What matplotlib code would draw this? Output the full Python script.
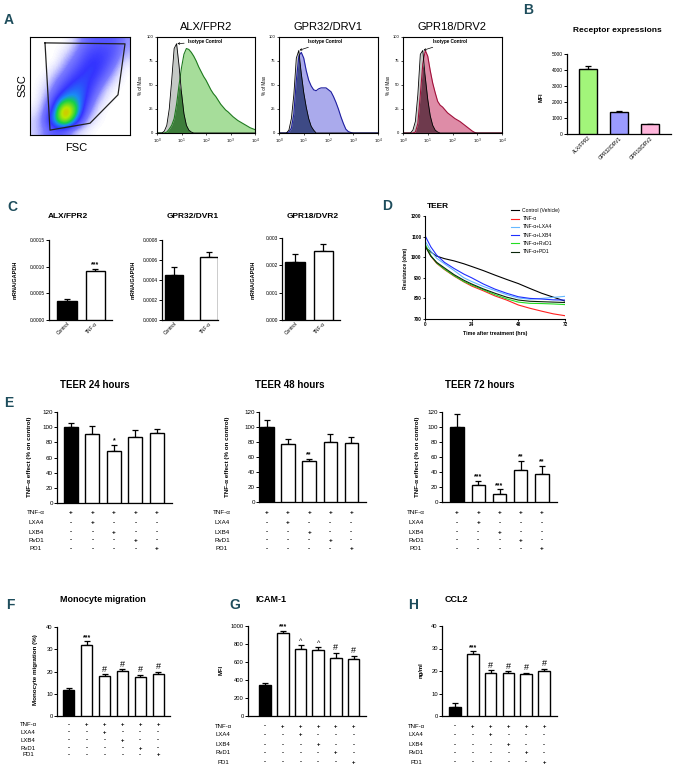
import numpy as np
import matplotlib
matplotlib.use("Agg")
import matplotlib.pyplot as plt
from matplotlib.colors import LinearSegmentedColormap
from matplotlib.transforms import blended_transform_factory

plt.rcParams['font.family'] = ['Liberation Sans', 'DejaVu Sans']

# ---------------- data ----------------
# flow cytometry histograms, x in log10 units (10^0 .. 10^4), y in % of max
hist_logx = np.round(np.arange(0, 4.01, 0.1), 1)
alx_iso = [0, 0, 0, 2, 8, 25, 55, 88, 93, 70, 42, 20, 8, 3, 1] + [0] * 26
alx_rec = [0, 0, 0, 0, 1, 4, 8, 15, 30, 50, 68, 82, 88, 87, 84, 80, 75, 69, 64, 59,
           55, 50, 45, 41, 38, 34, 30, 27, 24, 22, 19.5, 17, 15, 13, 11.5, 10, 8.5,
           7, 5.5, 4.5, 3.5]
gpr32_iso = [0, 0, 0, 0, 3, 15, 40, 78, 86, 62, 42, 27, 15, 7, 3, 0] + [0] * 25
gpr32_rec = [0, 0, 0, 0, 1, 5, 20, 55, 80, 84, 78, 65, 55, 49, 45, 44, 46, 47, 47, 47,
             45, 43, 38, 32, 25, 17, 10, 4, 1.5, 0.5] + [0] * 11
gpr18_iso = [0, 0, 0, 0, 3, 12, 40, 82, 86, 58, 35, 18, 8, 3, 1] + [0] * 26
gpr18_rec = [0, 0, 0, 0, 0, 1, 10, 40, 72, 86, 80, 65, 52, 42, 33, 29, 27, 24, 21, 19,
             17, 15, 13.5, 12, 10, 8, 6, 4, 2, 0.5] + [0] * 11

# FSC/SSC dot plot density (rows top -> bottom, cols left -> right)
scatter_density = [
    [0, 0, 0, 0, 0.05, 0.15, 0.2, 0.2, 0.2, 0.1],
    [0, 0, 0, 0.03, 0.1, 0.2, 0.25, 0.25, 0.2, 0.08],
    [0, 0, 0, 0.08, 0.15, 0.25, 0.3, 0.25, 0.15, 0.03],
    [0, 0, 0.05, 0.12, 0.22, 0.3, 0.3, 0.2, 0.08, 0],
    [0, 0.02, 0.1, 0.2, 0.3, 0.32, 0.25, 0.12, 0.03, 0],
    [0, 0.05, 0.15, 0.3, 0.38, 0.33, 0.18, 0.05, 0, 0],
    [0, 0.08, 0.25, 0.5, 0.48, 0.3, 0.1, 0.02, 0, 0],
    [0.02, 0.12, 0.35, 0.95, 0.6, 0.2, 0.05, 0, 0, 0],
    [0.05, 0.15, 0.45, 0.8, 0.4, 0.1, 0.02, 0, 0, 0],
    [0.05, 0.12, 0.2, 0.15, 0.05, 0.02, 0, 0, 0, 0],
]
gate_x = [0.15, 0.95, 0.88, 0.6, 0.2, 0.15]
gate_y = [0.94, 0.93, 0.41, 0.12, 0.05, 0.94]

# receptor MFI
receptors = ['ALX/FPR2', 'GPR32/DRV1', 'GPR18/DRV2']
receptor_mfi = [4080, 1380, 600]
receptor_err = [180, 80, 50]

# mRNA
mrna_groups = ['Control', 'TNF-α']
mrna_alx = [0.00035, 0.00091]
mrna_alx_err = [0.00005, 0.00005]
mrna_gpr32 = [0.00045, 0.00063]
mrna_gpr32_err = [0.00008, 0.00005]
mrna_gpr18 = [0.00213, 0.00252]
mrna_gpr18_err = [0.00028, 0.00027]

# TEER time course
teer_t = [0, 3, 6, 10, 15, 20, 24, 30, 36, 42, 48, 54, 60, 66, 72]
teer_ctrl = [1050, 1025, 1005, 993, 982, 968, 955, 935, 913, 892, 872, 848, 825, 806, 787]
teer_tnf = [1060, 1005, 970, 940, 908, 880, 860, 837, 812, 792, 768, 752, 738, 725, 716]
teer_lxa4 = [1080, 1030, 995, 968, 935, 900, 882, 858, 838, 818, 802, 796, 800, 805, 810]
teer_lxb4 = [1105, 1050, 1010, 975, 945, 918, 900, 870, 845, 825, 808, 800, 797, 793, 792]
teer_rvd1 = [1065, 1008, 972, 942, 910, 882, 865, 842, 818, 798, 782, 776, 775, 773, 770]
teer_pd1 = [1055, 1005, 975, 948, 915, 888, 870, 846, 825, 806, 792, 786, 784, 782, 780]
teer_names = ['Control (Vehicle)', 'TNF-α', 'TNF-α+LXA4', 'TNF-α+LXB4', 'TNF-α+RvD1', 'TNF-α+PD1']

# TEER effect bars
teer24 = [100, 91, 69, 87, 92]
teer24_err = [6, 10, 8, 9, 6]
teer24_marks = ['', '', '*', '', '']
teer48 = [100, 77, 55, 80, 79]
teer48_err = [9, 7, 3, 11, 8]
teer48_marks = ['', '', '**', '', '']
teer72 = [100, 23, 11, 43, 38]
teer72_err = [18, 5, 6, 12, 10]
teer72_marks = ['', '***', '***', '**', '**']

# monocyte migration, ICAM-1, CCL2
mono = [11.5, 32, 18.1, 20.2, 17.4, 18.9]
mono_err = [1.2, 1.6, 0.6, 0.8, 1.2, 1.0]
mono_marks = ['', '***', '#', '#', '#', '#']
icam = [342, 922, 740, 736, 643, 636]
icam_err = [26, 22, 48, 26, 60, 33]
icam_marks = ['', '***', '^', '^', '#', '#']
ccl2 = [4.0, 27.5, 19.2, 19.3, 18.7, 20.2]
ccl2_err = [1.8, 1.3, 1.2, 0.6, 0.6, 0.9]
ccl2_marks = ['', '***', '#', '#', '#', '#']

treat_labels = ['TNF-α', 'LXA4', 'LXB4', 'RvD1', 'PD1']
teer_signs = ['+++++', '-+---', '--+--', '---+-', '----+']
mono_signs = ['-+++++', '--+---', '---+--', '----+-', '-----+']

# ---------------- figure ----------------
W, H = 678, 773
fig = plt.figure(figsize=(W / 100, H / 100), dpi=100)
LETTER = '#1e4d5c'


def px_axes(l, t, r, b):
    return fig.add_axes([l / W, 1 - b / H, (r - l) / W, (b - t) / H])


def ftext(x, y, s, **kw):
    kw.setdefault('ha', 'center')
    kw.setdefault('va', 'center')
    fig.text(x / W, 1 - y / H, s, **kw)


def letter(x, y, s):
    ftext(x, y, s, fontsize=10, fontweight='bold', color=LETTER,
          family=['Liberation Sans Narrow', 'Liberation Sans', 'DejaVu Sans'])


def prism(ax, fs):
    ax.spines[['top', 'right']].set_visible(False)
    for sp in ('left', 'bottom'):
        ax.spines[sp].set_linewidth(0.9)
    ax.tick_params(axis='y', length=2, width=0.7, pad=1, labelsize=fs)
    ax.tick_params(axis='x', length=0, pad=1, labelsize=fs)


def bar_panel(box, vals, errs, colors, xlim, width, ylim, yticks, yticklabels, fs,
              marks=None):
    ax = px_axes(*box)
    x = np.arange(len(vals))
    ax.bar(x, vals, width=width, color=colors, edgecolor='black', linewidth=1.0, zorder=3)
    ax.errorbar(x, vals, yerr=[np.zeros(len(vals)), errs], fmt='none', ecolor='black',
                elinewidth=0.9, capsize=2.2, capthick=0.9, zorder=2)
    ax.set_xlim(*xlim)
    ax.set_ylim(*ylim)
    ax.set_yticks(yticks)
    ax.set_yticklabels(yticklabels)
    ax.set_xticks([])
    prism(ax, fs)
    if marks:
        for i, (v, e, m) in enumerate(zip(vals, errs, marks)):
            if m:
                size = 6.5 if m == '#' else 5
                ax.text(i, v + e + (ylim[1] * 0.005), m, ha='center', va='bottom',
                        fontsize=size, fontweight='bold' if '*' in m else 'normal',
                        linespacing=0.8)
    return ax


def sign_table(ax, signs, label_x, rows_y, fs=4.5):
    tr = blended_transform_factory(ax.transData, fig.transFigure)
    for name, row, y in zip(treat_labels, signs, rows_y):
        ftext(label_x, y, name, fontsize=fs)
        for i, s in enumerate(row):
            ax.text(i, 1 - y / H, s, transform=tr, ha='center', va='center',
                    fontsize=fs, fontweight='bold')


# ---------- A: scatter ----------
letter(9, 20, 'A')
cmap = LinearSegmentedColormap.from_list('flow', [
    (0.0, '#ffffff'), (0.04, '#dcdcff'), (0.12, '#7a7aff'), (0.28, '#3434ff'),
    (0.4, '#1a8cf5'), (0.5, '#14d04a'), (0.68, '#b8e800'), (0.85, '#ff9000'),
    (1.0, '#ff0000')])
axs = px_axes(30, 37, 130, 135)
axs.imshow(np.array(scatter_density), cmap=cmap, vmin=0, vmax=1, extent=(0, 1, 0, 1),
           origin='upper', interpolation='bicubic', aspect='auto')
axs.plot(gate_x, gate_y, color='#222222', lw=0.9)
axs.set_xlim(0, 1)
axs.set_ylim(0, 1)
axs.set_xticks([])
axs.set_yticks([])
for sp in axs.spines.values():
    sp.set_linewidth(0.8)
ftext(22, 86, 'SSC', fontsize=8, rotation=90)
ftext(76, 148, 'FSC', fontsize=8)

# ---------- A: histograms ----------
ISO = '#c5c9c6'


def histogram(l, r, title, iso, rec, fill, edge, dark, ylab_x, note_x, peak_x, peak_y):
    ax = px_axes(l, 37, r, 133)
    x = hist_logx
    iso = np.array(iso, float)
    rec = np.array(rec, float)
    ax.fill_between(x, rec, color=fill, lw=0)
    ax.fill_between(x, iso, color=ISO, lw=0)
    ax.fill_between(x, np.minimum(iso, rec), color=dark, lw=0)
    ax.plot(x, rec, color=edge, lw=0.8)
    ax.plot(x, iso, color='black', lw=0.6)
    ax.set_xlim(0, 4)
    ax.set_ylim(0, 100)
    ax.set_yticks([0, 25, 50, 75, 100])
    ax.set_xticks([0, 1, 2, 3, 4])
    ax.set_xticklabels([r'$10^{%d}$' % k for k in range(5)])
    ax.tick_params(labelsize=3, length=1.5, width=0.5, pad=1)
    for sp in ax.spines.values():
        sp.set_linewidth(0.8)
    ax.annotate('Isotype Control', xy=(peak_x, peak_y), xytext=(note_x, 95),
                fontsize=3.3, fontweight='bold', va='center', ha='left',
                arrowprops=dict(arrowstyle='->', lw=0.5, mutation_scale=3,
                                shrinkA=0.5, shrinkB=0.5))
    ftext((l + r) / 2, 27, title, fontsize=8)
    ftext(ylab_x, 85, '% of Max', fontsize=3.3, rotation=90)


histogram(157, 255, 'ALX/FPR2', alx_iso, alx_rec, '#a6dd9a', '#1f7a1f', '#3d7d3a', 141,
          1.25, 0.8, 93)
histogram(279, 378, 'GPR32/DRV1', gpr32_iso, gpr32_rec, '#aaaaec', '#1f1fa0', '#3e4a85',
          265, 1.17, 0.8, 86)
histogram(403, 502, 'GPR18/DRV2', gpr18_iso, gpr18_rec, '#de8ca7', '#a0103a', '#6e3a4d',
          389, 1.21, 0.8, 86)

# ---------- B ----------
letter(528, 10, 'B')
ftext(617, 31, 'Receptor expressions', fontsize=6, fontweight='bold')
axb = bar_panel((567, 54, 671, 134), receptor_mfi, receptor_err,
                ['#a2f57a', '#9b9bff', '#ffb6dc'], (-0.68, 2.68), 0.6, (0, 5000),
                range(0, 5001, 1000), [str(v) for v in range(0, 5001, 1000)], 3.5)
axb.set_xticks(range(3))
axb.set_xticklabels(receptors, rotation=45, ha='right', rotation_mode='anchor', fontsize=3.5)
ftext(541, 97, 'MFI', fontsize=4, fontweight='bold', rotation=90)

# ---------- C ----------
letter(12, 207, 'C')
c_specs = [
    ((49, 240, 112, 320), mrna_alx, mrna_alx_err, (-0.64, 1.6), 0.68, (0, 0.0015),
     [0, 0.0005, 0.0010, 0.0015], ['0.0000', '0.0005', '0.0010', '0.0015'],
     ['', '***'], 'ALX/FPR2', 68, 15),
    ((162, 240, 218, 320), mrna_gpr32, mrna_gpr32_err, (-0.34, 1.26), 0.51, (0, 0.0008),
     [0, 0.0002, 0.0004, 0.0006, 0.0008], ['0.0000', '0.0002', '0.0004', '0.0006', '0.0008'],
     None, 'GPR32/DVR1', 193, 133),
    ((282, 238, 340, 320), mrna_gpr18, mrna_gpr18_err, (-0.46, 1.6), 0.68, (0, 0.003),
     [0, 0.001, 0.002, 0.003], ['0.000', '0.001', '0.002', '0.003'],
     None, 'GPR18/DVR2', 313, 253),
]
for box, v, e, xl, w, yl, yt, ytl, mk, title, tx, lx in c_specs:
    ax = bar_panel(box, v, e, ['black', 'white'], xl, w, yl, yt, ytl, 3.5, mk)
    ax.set_xticks([0, 1])
    ax.set_xticklabels(mrna_groups, rotation=45, ha='right', rotation_mode='anchor',
                       fontsize=3.5)
    ftext(tx, 216, title, fontsize=6, fontweight='bold')
    ftext(lx, 280, 'mRNA/GAPDH', fontsize=4, fontweight='bold', rotation=90)

# ---------- D ----------
letter(387, 206, 'D')
ftext(427, 206, 'TEER', fontsize=6, fontweight='bold', ha='left')
axd = px_axes(425, 216, 565, 319)
teer_series = [teer_ctrl, teer_tnf, teer_lxa4, teer_lxb4, teer_rvd1, teer_pd1]
teer_colors = ['black', '#ff2020', '#66b8ff', '#1f2fff', '#22dd22', '#0a250a']
for vals, c, name in zip(teer_series, teer_colors, teer_names):
    axd.plot(teer_t, vals, color=c, lw=0.8, label=name)
axd.set_xlim(0, 72)
axd.set_ylim(700, 1200)
axd.set_xticks([0, 24, 48, 72])
axd.set_yticks(range(700, 1201, 100))
axd.spines[['top', 'right']].set_visible(False)
for sp in ('left', 'bottom'):
    axd.spines[sp].set_linewidth(0.8)
axd.tick_params(length=1.5, width=0.6, pad=1, labelsize=3.3)
for lab in axd.get_xticklabels() + axd.get_yticklabels():
    lab.set_fontweight('bold')
ftext(495, 334, 'Time after treatment (hrs)', fontsize=3.8, fontweight='bold')
ftext(405, 268, 'Resistance (ohm)', fontsize=3.5, fontweight='bold', rotation=90)
fig.legend(loc='upper left', bbox_to_anchor=(511 / W, 1 - 208 / H), frameon=False,
           fontsize=3.6, handlelength=1.5, handletextpad=0.8, labelspacing=0.65,
           borderaxespad=0, borderpad=0)

# ---------- E ----------
letter(9, 403, 'E')
e_rows = [513, 523, 532, 540, 549]
e_specs = [
    ((57, 412, 172, 503), teer24, teer24_err, teer24_marks, (-0.65, 4.7), 0.65,
     'TEER 24 hours', 95, 30, 36),
    ((259, 412, 366, 502), teer48, teer48_err, teer48_marks, (-0.38, 4.7), 0.63,
     'TEER 48 hours', 290, 227, 222),
    ((442, 412, 557, 502), teer72, teer72_err, teer72_marks, (-0.7, 4.7), 0.62,
     'TEER 72 hours', 480, 418, 416),
]
for box, v, e, mk, xl, w, title, tx, lx, tabx in e_specs:
    ax = bar_panel(box, v, e, ['black'] + ['white'] * 4, xl, w, (0, 120),
                   range(0, 121, 20), [str(k) for k in range(0, 121, 20)], 4.5, mk)
    ftext(tx, 385, title, fontsize=7, fontweight='bold')
    ftext(lx, 457, 'TNF-α effect (% on control)', fontsize=4.5, fontweight='bold',
          rotation=90)
    sign_table(ax, teer_signs, tabx, e_rows)

# ---------- F, G, H ----------
six_colors = ['black'] + ['white'] * 5
letter(10, 605, 'F')
ftext(103, 600, 'Monocyte migration', fontsize=6.5, fontweight='bold')
axf = bar_panel((57, 627, 170, 716), mono, mono_err, six_colors, (-0.67, 5.67), 0.62,
                (0, 40), range(0, 41, 10), [str(k) for k in range(0, 41, 10)], 4.2,
                mono_marks)
ftext(35, 670, 'Monocyte migration (%)', fontsize=4.5, fontweight='bold', rotation=90)
sign_table(axf, mono_signs, 28, [725, 732, 740, 748, 755], fs=4.3)

letter(235, 605, 'G')
ftext(255, 599, 'ICAM-1', fontsize=6.5, fontweight='bold', ha='left')
axg = bar_panel((248, 626, 366, 716), icam, icam_err, six_colors, (-0.97, 5.7), 0.66,
                (0, 1000), range(0, 1001, 200), [str(k) for k in range(0, 1001, 200)], 4.2,
                icam_marks)
ftext(221, 670, 'MFI', fontsize=4.2, fontweight='bold', rotation=90)
sign_table(axg, mono_signs, 223, [726, 735, 745, 753, 762], fs=4.3)

letter(413, 605, 'H')
ftext(445, 599, 'CCL2', fontsize=6.5, fontweight='bold', ha='left')
axh = bar_panel((442, 626, 557, 716), ccl2, ccl2_err, six_colors, (-0.73, 5.73), 0.65,
                (0, 40), range(0, 41, 10), [str(k) for k in range(0, 41, 10)], 4.2,
                ccl2_marks)
ftext(421, 670, 'ng/ml', fontsize=4.2, fontweight='bold', rotation=90)
sign_table(axh, mono_signs, 416, [726, 735, 745, 753, 762], fs=4.3)

fig.savefig('out.png', dpi=100)
